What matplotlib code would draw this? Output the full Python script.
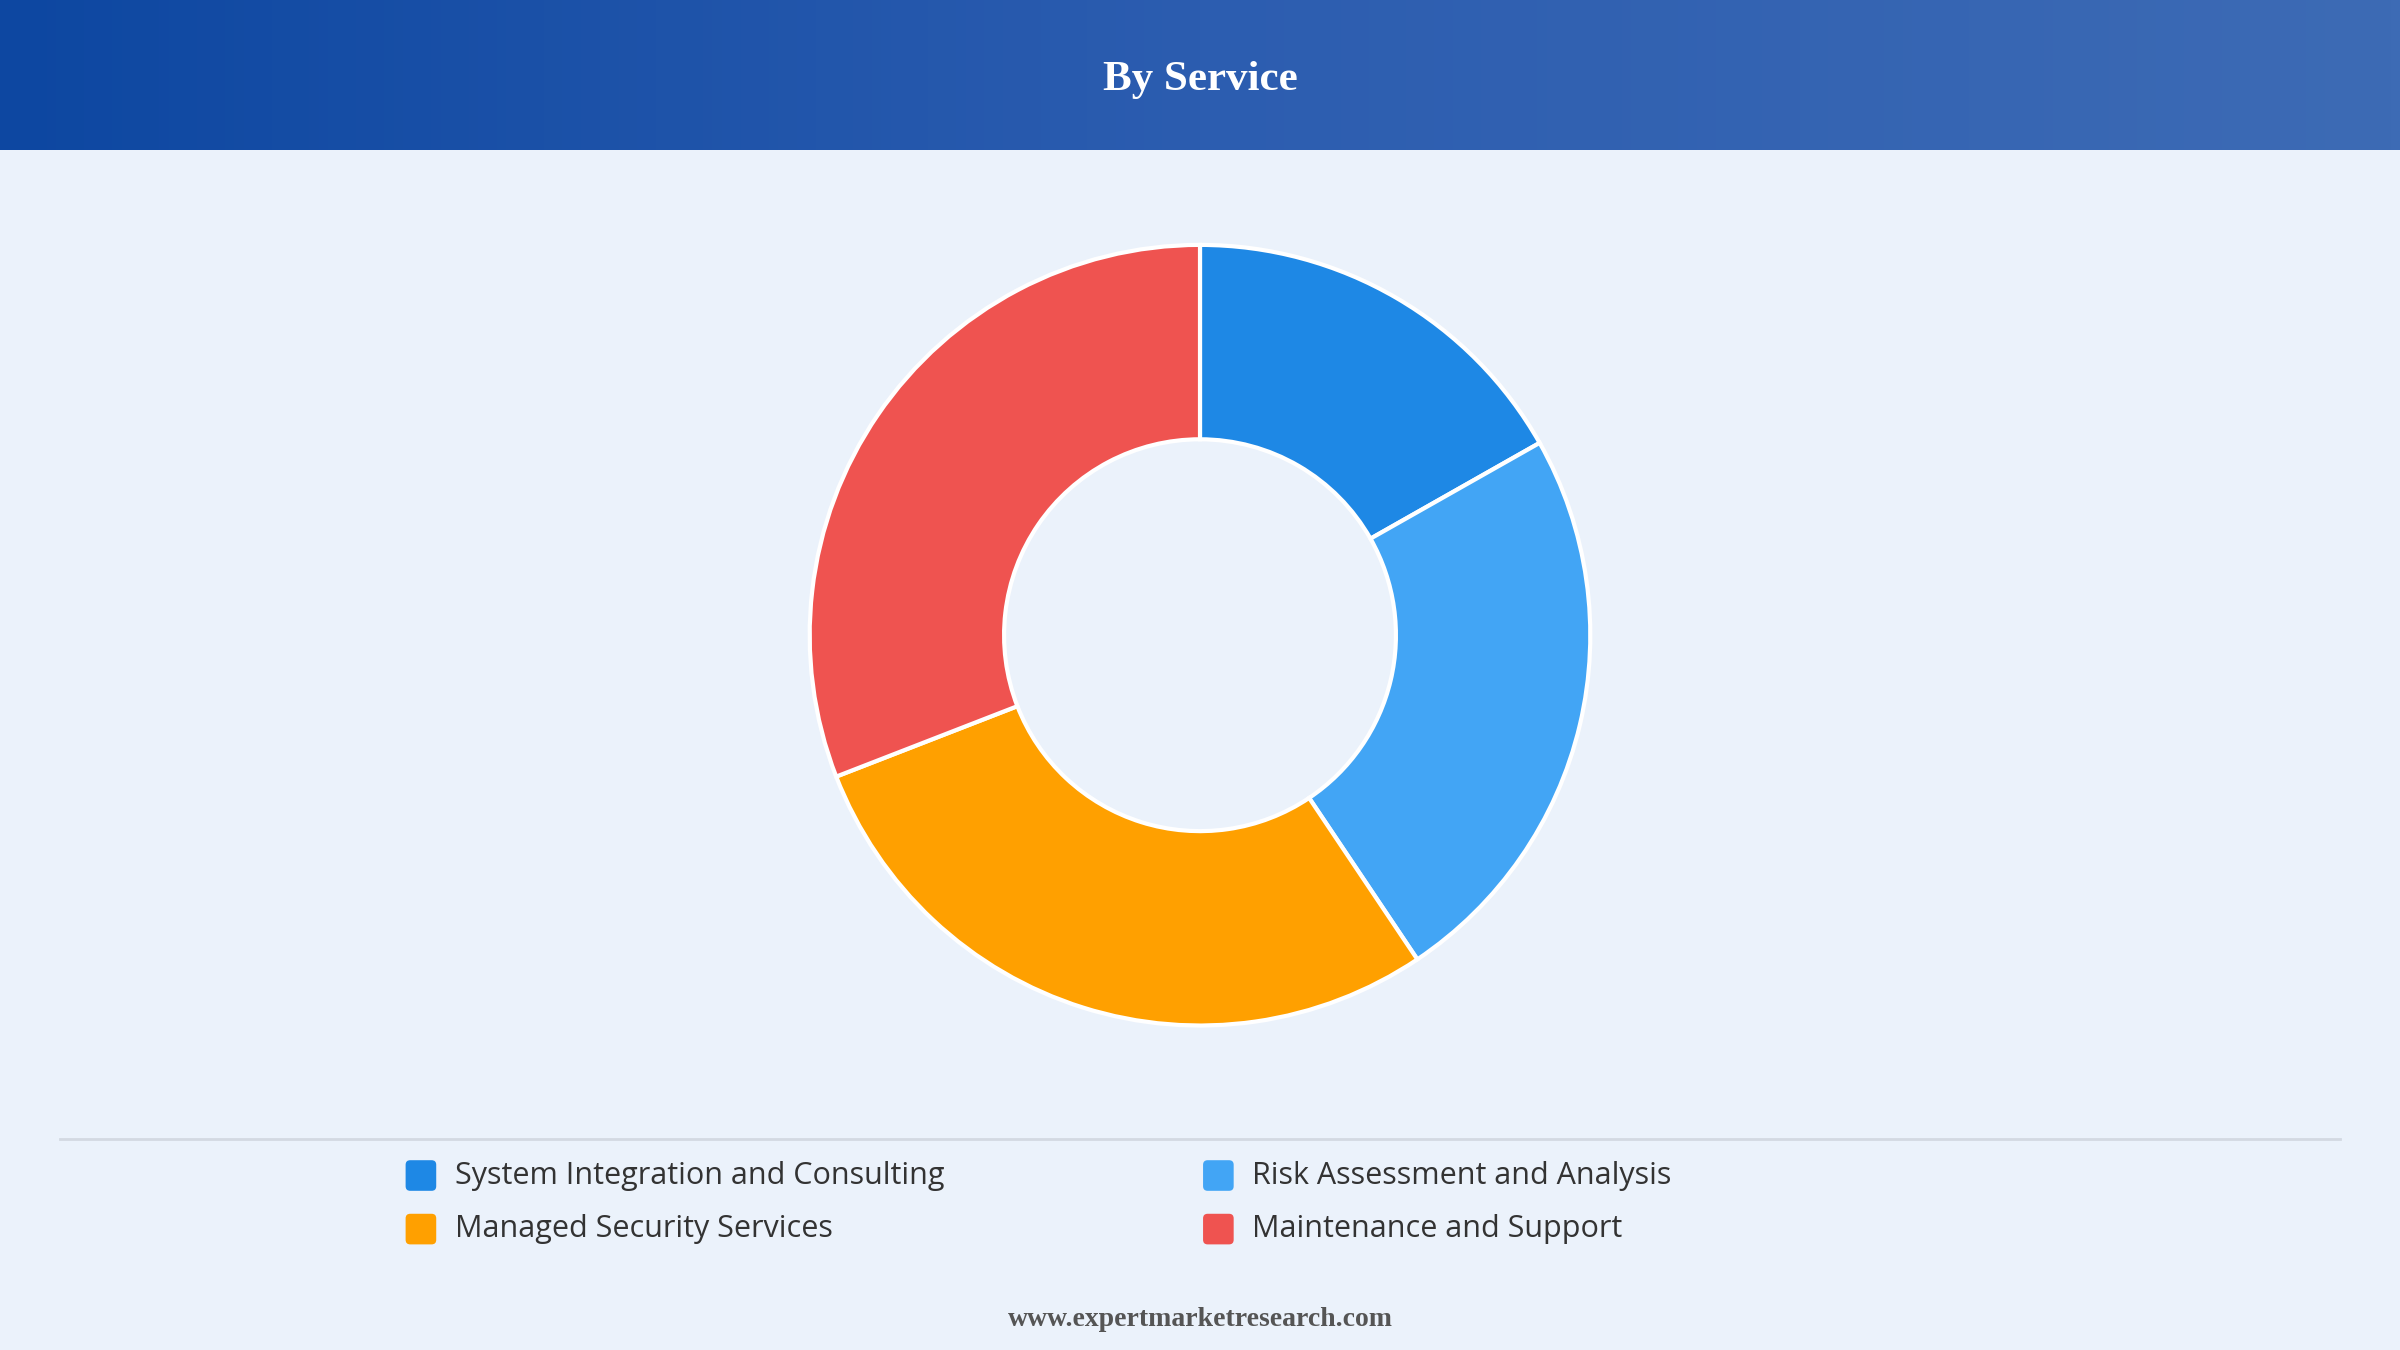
import numpy as np
import matplotlib
matplotlib.use("Agg")
import matplotlib.pyplot as plt
from matplotlib.patches import FancyBboxPatch

# data (percent shares, clockwise from 12 o'clock)
services = ["System Integration and Consulting", "Risk Assessment and Analysis",
            "Managed Security Services", "Maintenance and Support"]
shares = [16.8, 23.8, 28.5, 30.9]
colors = ["#1E88E5", "#42A5F5", "#FFA000", "#EF5350"]

title = "By Service"
footer = "www.expertmarketresearch.com"

# work in reference pixel units (1568 x 882), y measured from the bottom
W, H = 1568, 882
fig = plt.figure(figsize=(24, 13.5), dpi=100)
ax = fig.add_axes([0, 0, 1, 1])
ax.set_xlim(0, W)
ax.set_ylim(0, H)
ax.set_aspect("equal")
ax.axis("off")
fig.patch.set_facecolor("#EBF2FB")

# header gradient
grad = np.linspace(0, 1, 256).reshape(1, -1)
cmap = matplotlib.colors.LinearSegmentedColormap.from_list("hdr", ["#0D47A1", "#2C5DB0", "#3D6BB5"])
ax.imshow(grad, extent=[0, W, H - 98, H], cmap=cmap, aspect="auto", zorder=1)
ax.text(W / 2, H - 52, title, ha="center", va="center", color="white",
        fontsize=31, fontweight="bold", family="Liberation Serif", zorder=2)

# donut
ax.pie(shares, colors=colors, startangle=90, counterclock=False,
       center=(784, H - 415), radius=255, frame=True,
       wedgeprops=dict(width=127, edgecolor="white", linewidth=3))
ax.set_xlim(0, W)
ax.set_ylim(0, H)
ax.axis("off")

# divider
ax.plot([39, 1529], [H - 744, H - 744], color="#D3D9E2", lw=2)

# legend
pos = [(263, 768), (784, 768), (263, 803), (784, 803)]
for (x, y), name, c in zip(pos, services, colors):
    ax.add_patch(FancyBboxPatch((x + 2, H - y - 10), 20, 20,
                                boxstyle="round,pad=0,rounding_size=3",
                                fc=c, ec="none"))
    ax.text(x + 34, H - y, name, ha="left", va="center", fontsize=22,
            color="#333333", family="Open Sans")

ax.text(W / 2, H - 862, footer, ha="center", va="center", fontsize=20,
        fontweight="bold", color="#555555", family="Liberation Serif")

fig.savefig("out.png", dpi=100, facecolor=fig.get_facecolor())
